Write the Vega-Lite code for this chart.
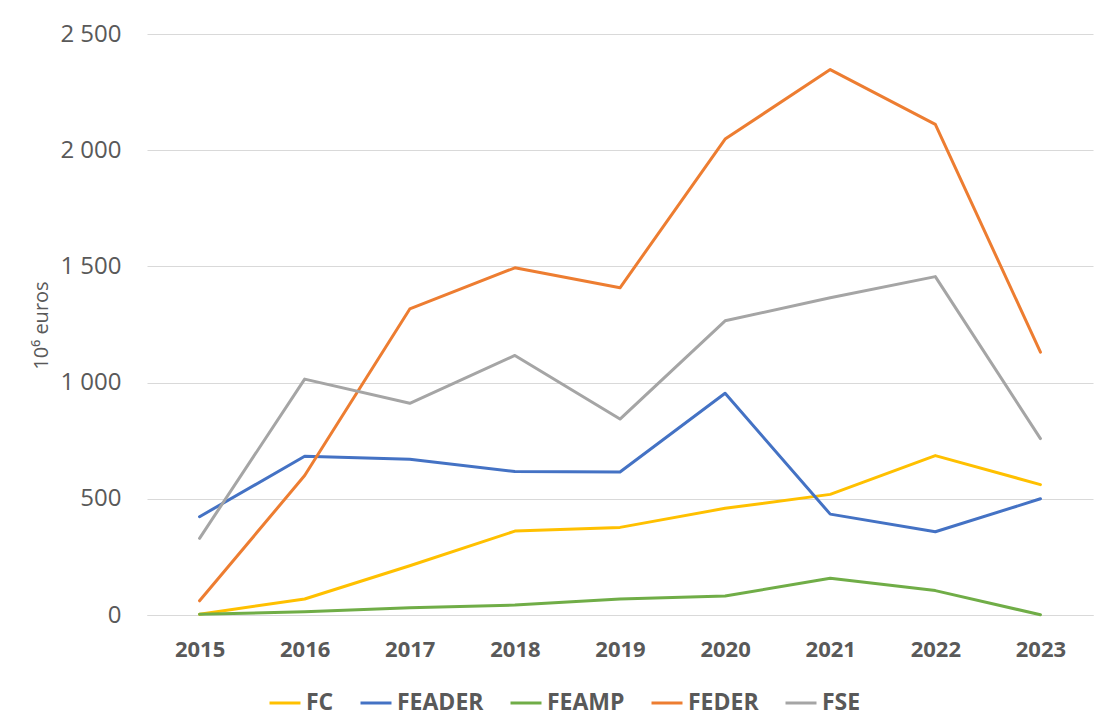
{
  "$schema": "https://vega.github.io/schema/vega-lite/v6.json",
  "autosize": "none",
  "padding": {"left": 147, "top": 34, "right": 13, "bottom": 107},
  "width": 946,
  "height": 581,
  "background": "white",
  "data": {
    "values": [
      {"year": "2015", "fund": "FC", "value": 3},
      {"year": "2016", "fund": "FC", "value": 69},
      {"year": "2017", "fund": "FC", "value": 212},
      {"year": "2018", "fund": "FC", "value": 361},
      {"year": "2019", "fund": "FC", "value": 377},
      {"year": "2020", "fund": "FC", "value": 459},
      {"year": "2021", "fund": "FC", "value": 519},
      {"year": "2022", "fund": "FC", "value": 686},
      {"year": "2023", "fund": "FC", "value": 561},
      {"year": "2015", "fund": "FEADER", "value": 423},
      {"year": "2016", "fund": "FEADER", "value": 683},
      {"year": "2017", "fund": "FEADER", "value": 670},
      {"year": "2018", "fund": "FEADER", "value": 617},
      {"year": "2019", "fund": "FEADER", "value": 615},
      {"year": "2020", "fund": "FEADER", "value": 954},
      {"year": "2021", "fund": "FEADER", "value": 434},
      {"year": "2022", "fund": "FEADER", "value": 358},
      {"year": "2023", "fund": "FEADER", "value": 500},
      {"year": "2015", "fund": "FEAMP", "value": 3},
      {"year": "2016", "fund": "FEAMP", "value": 14},
      {"year": "2017", "fund": "FEAMP", "value": 31},
      {"year": "2018", "fund": "FEAMP", "value": 43},
      {"year": "2019", "fund": "FEAMP", "value": 69},
      {"year": "2020", "fund": "FEAMP", "value": 82},
      {"year": "2021", "fund": "FEAMP", "value": 158},
      {"year": "2022", "fund": "FEAMP", "value": 105},
      {"year": "2023", "fund": "FEAMP", "value": 1},
      {"year": "2015", "fund": "FEDER", "value": 61},
      {"year": "2016", "fund": "FEDER", "value": 600},
      {"year": "2017", "fund": "FEDER", "value": 1317},
      {"year": "2018", "fund": "FEDER", "value": 1494},
      {"year": "2019", "fund": "FEDER", "value": 1408},
      {"year": "2020", "fund": "FEDER", "value": 2048},
      {"year": "2021", "fund": "FEDER", "value": 2347},
      {"year": "2022", "fund": "FEDER", "value": 2111},
      {"year": "2023", "fund": "FEDER", "value": 1131},
      {"year": "2015", "fund": "FSE", "value": 330},
      {"year": "2016", "fund": "FSE", "value": 1015},
      {"year": "2017", "fund": "FSE", "value": 911},
      {"year": "2018", "fund": "FSE", "value": 1117},
      {"year": "2019", "fund": "FSE", "value": 843},
      {"year": "2020", "fund": "FSE", "value": 1266},
      {"year": "2021", "fund": "FSE", "value": 1365},
      {"year": "2022", "fund": "FSE", "value": 1456},
      {"year": "2023", "fund": "FSE", "value": 759}
    ]
  },
  "mark": {"type": "line", "strokeWidth": 3, "strokeCap": "round", "strokeJoin": "round"},
  "encoding": {
    "x": {
      "field": "year",
      "type": "ordinal",
      "scale": {"type": "point", "padding": 0.5},
      "axis": {
        "title": null,
        "labelAngle": 0,
        "labelFont": "Open Sans",
        "labelFontSize": 22,
        "labelFontWeight": "bold",
        "labelColor": "#595959",
        "labelPadding": 24,
        "ticks": false,
        "grid": false,
        "domain": true,
        "domainColor": "#D9D9D9",
        "domainWidth": 1
      }
    },
    "y": {
      "field": "value",
      "type": "quantitative",
      "scale": {"domain": [0, 2500], "nice": false},
      "axis": {
        "title": "10⁶ euros",
        "titleFont": "Open Sans",
        "titleFontSize": 20,
        "titleFontWeight": "normal",
        "titleColor": "#595959",
        "titleAngle": -90,
        "titleAlign": "center",
        "titleBaseline": "middle",
        "titleX": -106,
        "titleY": 291,
        "values": [0, 500, 1000, 1500, 2000, 2500],
        "labelExpr": "replace(format(datum.value, ','), ',', ' ')",
        "labelFont": "Open Sans",
        "labelFontSize": 24,
        "labelColor": "#595959",
        "labelPadding": 26,
        "ticks": false,
        "domain": false,
        "grid": true,
        "gridColor": "#D9D9D9",
        "gridWidth": 1
      }
    },
    "color": {
      "field": "fund",
      "type": "nominal",
      "scale": {
        "domain": ["FC", "FEADER", "FEAMP", "FEDER", "FSE"],
        "range": ["#FFC000", "#4472C4", "#70AD47", "#ED7D31", "#A5A5A5"]
      },
      "legend": {
        "title": null,
        "orient": "none",
        "direction": "horizontal",
        "legendX": 121,
        "legendY": 652,
        "padding": 0,
        "symbolType": "stroke",
        "symbolSize": 961,
        "symbolStrokeWidth": 3,
        "labelFont": "Open Sans",
        "labelFontSize": 23,
        "labelFontWeight": "bold",
        "labelColor": "#595959",
        "labelOffset": 4,
        "columnPadding": 20
      }
    }
  },
  "config": {
    "view": {"stroke": null}
  }
}
